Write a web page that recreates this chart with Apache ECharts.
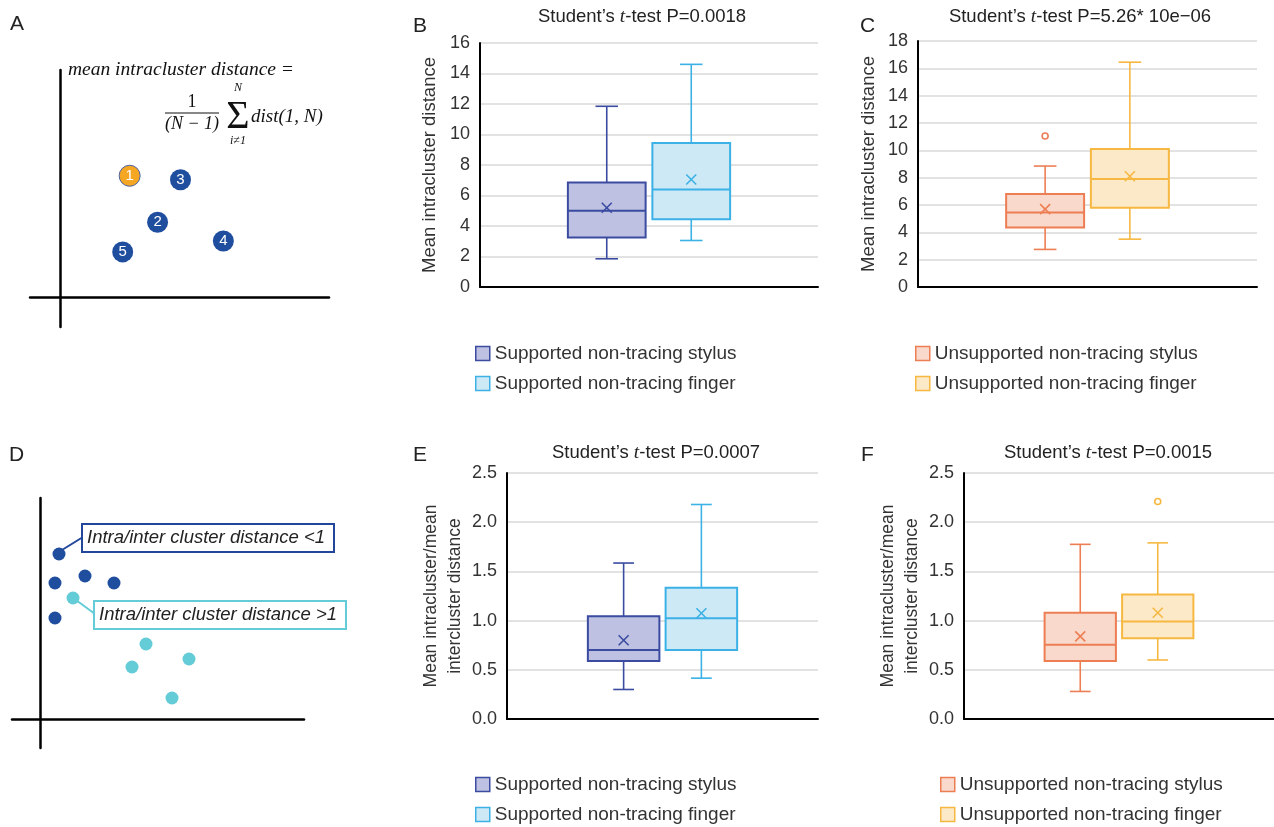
<!DOCTYPE html>
<html><head><meta charset="utf-8">
<script src="https://cdn.jsdelivr.net/npm/echarts@6/dist/echarts.min.js"></script>
<style>html,body{margin:0;padding:0;background:#fff}#c{width:1274px;height:827px}</style>
</head><body><div id="c"></div>
<script>
// ---------------- DATA ----------------
// box-plot categories (outer two are empty spacer slots)
const boxCats = ['', 'stylus', 'finger', ''];
// [min, Q1, median, Q3, max]
const B_stylusBox = [1.85, 3.25, 5.0, 6.85, 11.85];
const B_stylusMean = [5.2];
const B_fingerBox = [3.05, 4.45, 6.4, 9.45, 14.6];
const B_fingerMean = [7.05];
const C_stylusBox = [2.75, 4.35, 5.45, 6.8, 8.85];
const C_stylusMean = [5.7];
const C_stylusOutliers = [11.05];
const C_fingerBox = [3.5, 5.8, 7.9, 10.1, 16.45];
const C_fingerMean = [8.1];
const E_stylusBox = [0.30, 0.59, 0.70, 1.045, 1.585];
const E_stylusMean = [0.80];
const E_fingerBox = [0.415, 0.70, 1.025, 1.335, 2.18];
const E_fingerMean = [1.075];
const F_stylusBox = [0.28, 0.59, 0.755, 1.08, 1.775];
const F_stylusMean = [0.84];
const F_fingerBox = [0.60, 0.82, 0.99, 1.265, 1.79];
const F_fingerMean = [1.08];
const F_fingerOutliers = [2.21];
// y axis ranges [min, max, interval]
const B_yRange = [0, 16, 2];
const C_yRange = [0, 18, 2];
const E_yRange = [0, 2.5, 0.5];
const F_yRange = [0, 2.5, 0.5];
// titles
const titles = ['0.0018', '5.26* 10e\u221206', '0.0007', '0.0015'];
const names = {
  ss: 'Supported non-tracing stylus', sf: 'Supported non-tracing finger',
  us: 'Unsupported non-tracing stylus', uf: 'Unsupported non-tracing finger'
};
// schematic A points [x, y, label]
const A_points = [[7.0, 12.3, '1'], [12.1, 11.9, '3'], [9.8, 7.6, '2'], [16.4, 5.7, '4'], [6.3, 4.6, '5']];
// schematic D points
const D_darkPoints = [[1.9, 16.5], [1.5, 13.6], [4.5, 14.3], [7.4, 13.6], [1.5, 10.1]];
const D_lightPoints = [[3.3, 12.1], [10.6, 7.5], [9.2, 5.2], [14.9, 6.0], [13.2, 2.1]];

// ---------------- STYLE ----------------
const FONT = '"Liberation Sans", Arial, Helvetica, sans-serif';
const SERIF = '"Liberation Serif", "Times New Roman", serif';
const col = {
  ss: {stroke: '#3a4ba0', fill: '#bfc1e2'},
  sf: {stroke: '#3cb1e6', fill: '#cde9f6'},
  us: {stroke: '#ed7e53', fill: '#f9d9cc'},
  uf: {stroke: '#f7b842', fill: '#fce9c8'}
};
const BOX_RATIO = 0.92, CAP_RATIO = 0.29;

function boxRender(c) {
  return function (params, api) {
    const cat = api.value(0);
    const p = i => api.coord([cat, api.value(i)]);
    const pMin = p(1), pQ1 = p(2), pMed = p(3), pQ3 = p(4), pMax = p(5), pMean = p(6);
    const x = pMed[0];
    const hw = api.size([1, 0])[0] * BOX_RATIO / 2;
    const cw = hw * CAP_RATIO;
    const ls = {stroke: c.stroke, lineWidth: 1.6};
    const m = 5;
    return {type: 'group', children: [
      {type: 'line', shape: {x1: x, y1: pMax[1], x2: x, y2: pQ3[1]}, style: ls},
      {type: 'line', shape: {x1: x, y1: pQ1[1], x2: x, y2: pMin[1]}, style: ls},
      {type: 'line', shape: {x1: x - cw, y1: pMax[1], x2: x + cw, y2: pMax[1]}, style: ls},
      {type: 'line', shape: {x1: x - cw, y1: pMin[1], x2: x + cw, y2: pMin[1]}, style: ls},
      {type: 'rect', shape: {x: x - hw, y: pQ3[1], width: 2 * hw, height: pQ1[1] - pQ3[1]},
        style: {fill: c.fill, stroke: c.stroke, lineWidth: 2}},
      {type: 'line', shape: {x1: x - hw, y1: pMed[1], x2: x + hw, y2: pMed[1]}, style: {stroke: c.stroke, lineWidth: 2}},
      {type: 'line', shape: {x1: x - m, y1: pMean[1] - m, x2: x + m, y2: pMean[1] + m}, style: ls},
      {type: 'line', shape: {x1: x - m, y1: pMean[1] + m, x2: x + m, y2: pMean[1] - m}, style: ls}
    ]};
  };
}
function boxSeries(name, axisIdx, cat, box, mean, c) {
  return {
    type: 'custom', name: name, xAxisIndex: axisIdx, yAxisIndex: axisIdx,
    renderItem: boxRender(c), itemStyle: {color: c.fill, borderColor: c.stroke},
    encode: {x: 0, y: [1, 2, 3, 4, 5, 6]},
    data: [[cat].concat(box, mean)], z: 3, silent: true
  };
}
function outlierSeries(name, axisIdx, cat, vals, c) {
  return {
    type: 'scatter', name: name, xAxisIndex: axisIdx, yAxisIndex: axisIdx,
    symbol: 'circle', symbolSize: 6,
    itemStyle: {color: '#fff', borderColor: c.stroke, borderWidth: 1.6, opacity: 1},
    data: vals.map(v => [cat, v]), z: 4, silent: true
  };
}

// grids: 0 A, 1 B, 2 C, 3 D, 4 E, 5 F
const grids = [
  {left: 30, top: 70, width: 299, height: 257},
  {left: 480, top: 43, width: 338, height: 244},
  {left: 918, top: 41, width: 339, height: 246},
  {left: 12, top: 498, width: 292, height: 250},
  {left: 507, top: 473, width: 311, height: 246},
  {left: 964, top: 473, width: 310, height: 246}
];

function schemAxis(gi, min, max) {
  return {
    type: 'value', gridIndex: gi, min: min, max: max,
    axisLine: {show: true, onZero: true, lineStyle: {color: '#000', width: 2.5}},
    axisTick: {show: false}, axisLabel: {show: false}, splitLine: {show: false}
  };
}
function catAxis(gi) {
  return {
    type: 'category', gridIndex: gi, data: boxCats, boundaryGap: true,
    axisLine: {show: true, lineStyle: {color: '#000', width: 2}},
    axisTick: {show: false}, axisLabel: {show: false}, splitLine: {show: false}
  };
}
function valAxis(gi, r, nameText, gap, dec) {
  return {
    type: 'value', gridIndex: gi, min: r[0], max: r[1], interval: r[2],
    axisLine: {show: true, lineStyle: {color: '#000', width: 2}},
    axisTick: {show: false},
    axisLabel: {fontSize: 18, color: '#333', fontFamily: FONT, margin: 10,
      formatter: v => dec ? v.toFixed(1) : String(v)},
    splitLine: {show: true, lineStyle: {color: '#d9d9d9', width: 1.5}},
    name: nameText, nameLocation: 'middle', nameGap: gap,
    nameTextStyle: {fontSize: dec ? 17.5 : 18.5, color: '#333', fontFamily: FONT, lineHeight: 24}
  };
}

const xAxes = [
  schemAxis(0, -3, 27), catAxis(1), catAxis(2), schemAxis(3, -2.8, 26.4), catAxis(4), catAxis(5)
];
const yAxes = [
  schemAxis(0, -3, 23),
  valAxis(1, B_yRange, 'Mean intracluster distance', 38, false),
  valAxis(2, C_yRange, 'Mean intracluster distance', 37, false),
  schemAxis(3, -2.9, 22.1),
  valAxis(4, E_yRange, 'Mean intracluster/mean\nintercluster distance', 40, true),
  valAxis(5, F_yRange, 'Mean intracluster/mean\nintercluster distance', 40, true)
];

const series = [
  {
    type: 'scatter', xAxisIndex: 0, yAxisIndex: 0, symbolSize: 21, silent: true,
    data: A_points.map(p => ({
      value: [p[0], p[1]], name: p[2],
      itemStyle: p[2] === '1' ? {color: '#f5a623', borderColor: '#4a62a8', borderWidth: 1, opacity: 1}
                              : {color: '#1f4e9f', opacity: 1}
    })),
    label: {show: true, position: 'inside', formatter: '{b}', color: '#fff', fontSize: 15, fontFamily: FONT}
  },
  {type: 'scatter', xAxisIndex: 3, yAxisIndex: 3, symbolSize: 13, silent: true,
    itemStyle: {color: '#1f4e9f', opacity: 1}, data: D_darkPoints},
  {type: 'scatter', xAxisIndex: 3, yAxisIndex: 3, symbolSize: 13, silent: true,
    itemStyle: {color: '#63ccd6', opacity: 1}, data: D_lightPoints},
  boxSeries(names.ss, 1, 1, B_stylusBox, B_stylusMean, col.ss),
  boxSeries(names.sf, 1, 2, B_fingerBox, B_fingerMean, col.sf),
  boxSeries(names.us, 2, 1, C_stylusBox, C_stylusMean, col.us),
  outlierSeries(names.us, 2, 1, C_stylusOutliers, col.us),
  boxSeries(names.uf, 2, 2, C_fingerBox, C_fingerMean, col.uf),
  boxSeries(names.ss, 4, 1, E_stylusBox, E_stylusMean, col.ss),
  boxSeries(names.sf, 4, 2, E_fingerBox, E_fingerMean, col.sf),
  boxSeries(names.us, 5, 1, F_stylusBox, F_stylusMean, col.us),
  boxSeries(names.uf, 5, 2, F_fingerBox, F_fingerMean, col.uf),
  outlierSeries(names.uf, 5, 2, F_fingerOutliers, col.uf)
];

function legend(left, top, keys) {
  return {
    left: left, top: top, orient: 'vertical', itemWidth: 14, itemHeight: 14, itemGap: 11,
    padding: 0, icon: 'rect', selectedMode: false,
    textStyle: {fontSize: 19, color: '#333', fontFamily: FONT},
    data: keys.map(k => ({name: names[k], itemStyle: {color: col[k].fill, borderColor: col[k].stroke, borderWidth: 1.5}}))
  };
}

function letter(t, x, y) {
  return {type: 'text', left: x, top: y, style: {text: t, fontSize: 21, fontFamily: FONT, fill: '#222'}};
}
function title(i, cx, cy) {
  return {type: 'text', x: cx, y: cy, style: {
    text: '{a|Student\u2019s }{i|t}{a|-test P=' + titles[i] + '}', align: 'center', verticalAlign: 'middle',
    rich: {a: {fontSize: 18.5, fontFamily: FONT, fill: '#222'}, i: {fontSize: 19.5, fontFamily: SERIF, fontStyle: 'italic', fill: '#222'}}
  }};
}
const graphics = [
  letter('A', 10, 14), letter('B', 413, 16), letter('C', 860, 16),
  letter('D', 9, 445), letter('E', 413, 445), letter('F', 861, 445),
  title(0, 642, 17), title(1, 1080, 17), title(2, 656, 453), title(3, 1108, 453),
  // formula in A
  {type: 'text', x: 68, y: 70, style: {text: 'mean intracluster distance =', fontFamily: SERIF, fontStyle: 'italic', fontSize: 19.5, fill: '#111', verticalAlign: 'middle'}},
  {type: 'text', x: 192, y: 102, style: {text: '1', fontFamily: SERIF, fontSize: 18, fill: '#111', align: 'center', verticalAlign: 'middle'}},
  {type: 'line', shape: {x1: 165, y1: 113, x2: 219, y2: 113}, style: {stroke: '#111', lineWidth: 1}},
  {type: 'text', x: 192, y: 124, style: {text: '(N \u2212 1)', fontFamily: SERIF, fontStyle: 'italic', fontSize: 18, fill: '#111', align: 'center', verticalAlign: 'middle'}},
  {type: 'text', x: 238, y: 88, style: {text: 'N', fontFamily: SERIF, fontStyle: 'italic', fontSize: 12, fill: '#111', align: 'center', verticalAlign: 'middle'}},
  {type: 'text', x: 238, y: 117, style: {text: '\u03a3', fontFamily: SERIF, fontSize: 40, fill: '#111', align: 'center', verticalAlign: 'middle'}},
  {type: 'text', x: 238, y: 141, style: {text: 'i\u22601', fontFamily: SERIF, fontStyle: 'italic', fontSize: 12, fill: '#111', align: 'center', verticalAlign: 'middle'}},
  {type: 'text', x: 251, y: 117, style: {text: 'dist(1, N)', fontFamily: SERIF, fontStyle: 'italic', fontSize: 19, fill: '#111', verticalAlign: 'middle'}},
  // D annotations
  {type: 'line', shape: {x1: 62, y1: 550, x2: 83, y2: 537}, style: {stroke: '#22479a', lineWidth: 2}},
  {type: 'rect', shape: {x: 82, y: 524, width: 252, height: 28}, style: {fill: '#fff', stroke: '#22479a', lineWidth: 2}},
  {type: 'text', x: 87, y: 538, style: {text: 'Intra/inter cluster distance <1', fontFamily: FONT, fontStyle: 'italic', fontSize: 18.5, fill: '#222', verticalAlign: 'middle'}},
  {type: 'line', shape: {x1: 76, y1: 600, x2: 95, y2: 614}, style: {stroke: '#63ccd6', lineWidth: 2}},
  {type: 'rect', shape: {x: 94, y: 601, width: 252, height: 28}, style: {fill: '#fff', stroke: '#63ccd6', lineWidth: 2}},
  {type: 'text', x: 99, y: 615, style: {text: 'Intra/inter cluster distance >1', fontFamily: FONT, fontStyle: 'italic', fontSize: 18.5, fill: '#222', verticalAlign: 'middle'}}
];

const chart = echarts.init(document.getElementById('c'), null, {renderer: 'canvas'});
chart.setOption({
  animation: false,
  backgroundColor: '#fff',
  grid: grids,
  xAxis: xAxes,
  yAxis: yAxes,
  series: series,
  legend: [
    legend(475, 344, ['ss', 'sf']),
    legend(915, 344, ['us', 'uf']),
    legend(475, 775, ['ss', 'sf']),
    legend(940, 775, ['us', 'uf'])
  ],
  graphic: graphics
});
</script>
</body></html>
